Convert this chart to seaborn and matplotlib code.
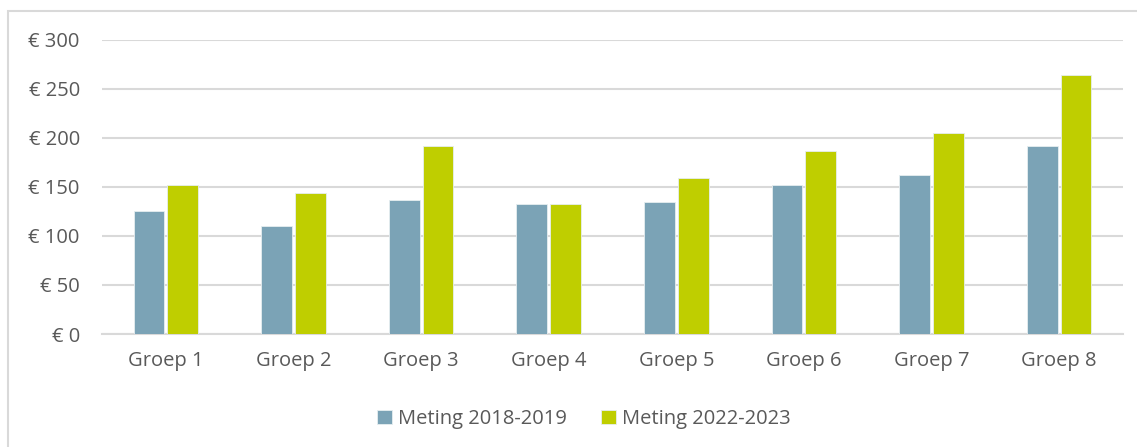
import matplotlib
matplotlib.use("Agg")
import matplotlib.pyplot as plt
import pandas as pd
import seaborn as sns
from matplotlib.patches import Rectangle

# data
groups = ["Groep 1", "Groep 2", "Groep 3", "Groep 4",
          "Groep 5", "Groep 6", "Groep 7", "Groep 8"]
meting_2018_2019 = [125, 110, 137, 133, 135, 152, 162, 192]
meting_2022_2023 = [152, 144, 192, 133, 159, 187, 205, 264]
series_names = ["Meting 2018-2019", "Meting 2022-2023"]
y_ticks = [0, 50, 100, 150, 200, 250, 300]

df = pd.DataFrame({
    "groep": groups * 2,
    "bedrag": meting_2018_2019 + meting_2022_2023,
    "meting": [series_names[0]] * len(groups) + [series_names[1]] * len(groups),
})

sns.set_style("white")
plt.rcParams["font.family"] = ["Open Sans", "DejaVu Sans"]

text_color = "#595959"
grid_color = "#d9d9d9"
palette = {series_names[0]: "#7BA3B6", series_names[1]: "#BFCE00"}

fig = plt.figure(figsize=(11.37, 4.47), dpi=100)
ax = fig.add_axes([102 / 1137, 1 - 334 / 447, (1123 - 102) / 1137, (334 - 40) / 447])

sns.barplot(data=df, x="groep", y="bedrag", hue="meting", palette=palette,
            width=0.53, gap=0.09, saturation=1, ax=ax, zorder=3,
            edgecolor="#e6eef0", linewidth=0.6)

ax.set_ylim(0, 300)
ax.set_xlim(-0.5, len(groups) - 0.5)
ax.set_yticks(y_ticks)
ax.set_yticklabels([f"€ {v}" for v in y_ticks])
ax.set_xlabel("")
ax.set_ylabel("")

# gridlines like the spreadsheet chart
ax.yaxis.grid(True, color=grid_color, linewidth=1.5, zorder=0)
ax.set_axisbelow(True)
for side in ["top", "right", "left"]:
    ax.spines[side].set_visible(False)
ax.spines["bottom"].set_color(grid_color)
ax.spines["bottom"].set_linewidth(1.5)

ax.tick_params(axis="y", length=0, pad=16, labelsize=14.5, labelcolor=text_color)
ax.tick_params(axis="x", length=0, pad=12, labelsize=14.5, labelcolor=text_color)

# legend at the bottom
handles, labels = ax.get_legend_handles_labels()
ax.get_legend().remove()
fig.legend(handles, labels, loc="center", bbox_to_anchor=(584 / 1137, 1 - 419 / 447),
           ncol=2, frameon=False, fontsize=14.5, labelcolor=text_color,
           handlelength=0.75, handleheight=0.75, handletextpad=0.3, columnspacing=1.7)

# light frame around the chart area
fig.patches.append(Rectangle((8 / 1137, -0.1), 1.2, 1.1 - 11 / 447,
                             transform=fig.transFigure, fill=False,
                             edgecolor=grid_color, linewidth=1.5))

fig.savefig("out.png", dpi=100)
